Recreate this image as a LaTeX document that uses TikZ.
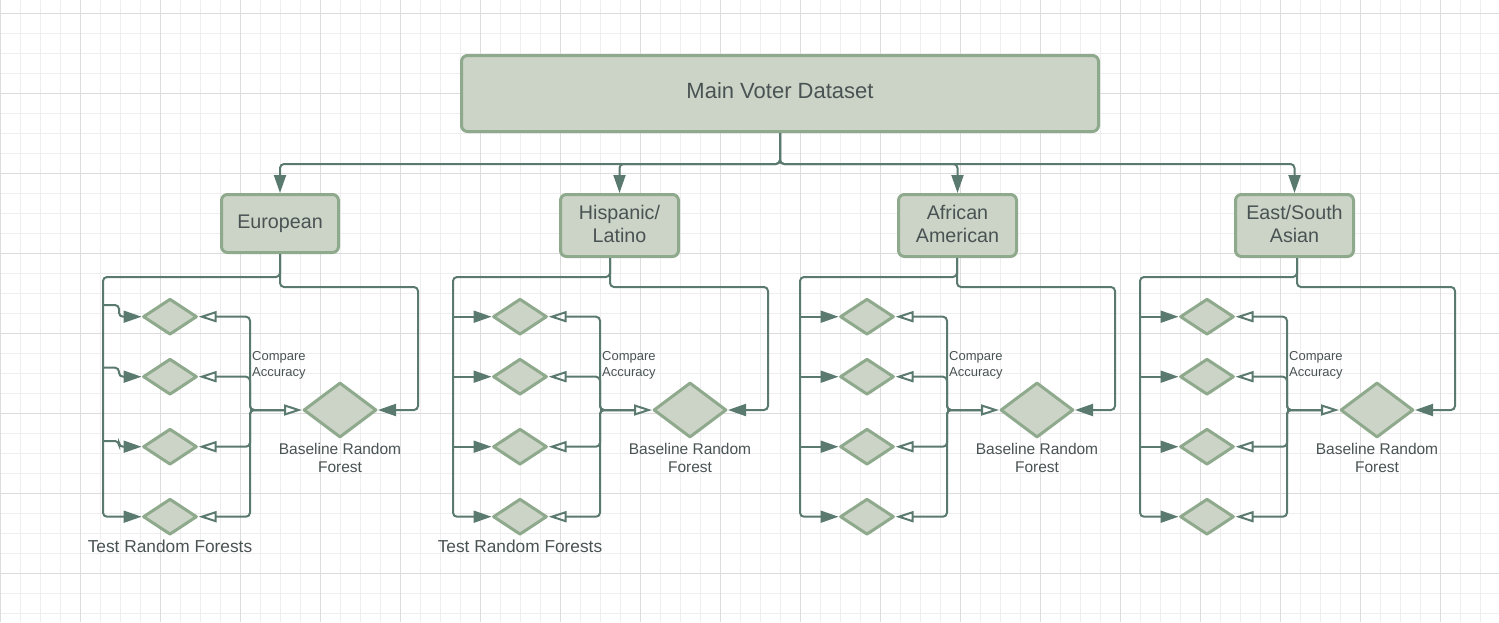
\documentclass[tikz,border=0pt]{standalone}
\usepackage{fontspec}
\setmainfont{Liberation Sans}
\usetikzlibrary{shapes.geometric,arrows.meta,calc}
\definecolor{cfill}{HTML}{CCD4C8}
\definecolor{cborder}{HTML}{8EA98C}
\definecolor{cline}{HTML}{5B7A6F}
\definecolor{ctext}{HTML}{4A5353}
\definecolor{gminor}{HTML}{EEEEEE}
\definecolor{gmajor}{HTML}{DCDCDC}
\begin{document}
\begin{tikzpicture}[x=1pt,y=-1pt,
  box/.style={draw=cborder, fill=cfill, line width=3pt, rounded corners=6pt, text=ctext, align=center, inner sep=0pt},
  dia/.style={diamond, draw=cborder, fill=cfill, line width=3pt, line join=round, inner sep=0pt},
  smalldia/.style={dia, minimum width=54pt, minimum height=36pt},
  bigdia/.style={dia, minimum width=73pt, minimum height=55pt},
  conn/.style={draw=cline, line width=2pt, rounded corners=4pt},
  fillarrow/.style={conn, -{Triangle[length=18pt,width=12pt]}},
  openarrow/.style={conn, -{Triangle[open,length=18pt,width=11pt]}},
  lbl/.style={text=ctext, align=center, inner sep=0pt},
  catfont/.style={font=\fontsize{19.7}{23}\selectfont},
]
\useasboundingbox (0,0) rectangle (1499,622);
\fill[white] (0,0) rectangle (1499,622);
% grid
\foreach \x in {0,20,...,1480} \draw[gminor, line width=1pt] (\x+0.7,0) -- (\x+0.7,622);
\foreach \y in {0,20,...,600} \draw[gminor, line width=1pt] (0,\y+13.3) -- (1499,\y+13.3);
\foreach \x in {0,80,...,1440} \draw[gmajor, line width=1.2pt] (\x+0.7,0) -- (\x+0.7,622);
\foreach \y in {0,80,...,560} \draw[gmajor, line width=1.2pt] (0,\y+13.3) -- (1499,\y+13.3);

% main box and categories
\node[box, minimum width=637pt, minimum height=76pt, text depth=5pt, font=\fontsize{22}{26}\selectfont] (main) at (780,93.5) {Main Voter Dataset};
\node[box, catfont, minimum width=117pt, minimum height=58pt] (c1) at (280,223.5) {European};
\node[box, catfont, minimum width=118pt, minimum height=62pt, text depth=3pt] (c2) at (619.5,225.5) {Hispanic/\\Latino};
\node[box, catfont, minimum width=118pt, minimum height=62pt, text depth=3pt] (c3) at (957.5,225.5) {African\\American};
\node[box, catfont, minimum width=118pt, minimum height=62pt, text depth=3pt] (c4) at (1294.5,225.5) {East/South\\Asian};

\coordinate (bus) at (0,164);
\foreach \i in {1,2,3,4}
  \draw[fillarrow] (main.south) |- (c\i.north |- bus) -- (c\i.north);

\foreach \i/\o/\cx in {1/0/280, 2/350/610, 3/697/957, 4/1037/1297} {
  \node[smalldia] (ta\i) at (170+\o,316.7) {};
  \node[smalldia] (tb\i) at (170+\o,376.7) {};
  \node[smalldia] (tc\i) at (170+\o,446.7) {};
  \node[smalldia] (td\i) at (170+\o,516.7) {};
  \node[bigdia] (b\i) at (340+\o,410) {};
  \coordinate (cx\i) at (\cx,0);
  \coordinate (lv\i) at (103+\o,277);
  \coordinate (rv\i) at (418+\o,287);
  \coordinate (iv\i) at (250+\o,0);
  % from category box
  \draw[fillarrow] (cx\i |- c\i.south) |- (lv\i) |- (td\i.west);
  \draw[fillarrow] (cx\i |- c\i.south) |- (rv\i) |- (b\i.east);
  % branches to test forests
  \ifnum\i=1
    \draw[fillarrow] (lv\i |- 0,305) -| (119,316.7) -- (ta\i.west);
    \draw[fillarrow] (lv\i |- 0,367.7) -| (119,376.7) -- (tb\i.west);
    \draw[fillarrow] (lv\i |- 0,441) -| (119,446.7) -- (tc\i.west);
  \else
    \draw[fillarrow] (ta\i.west -| lv\i) -- (ta\i.west);
    \draw[fillarrow] (tb\i.west -| lv\i) -- (tb\i.west);
    \draw[fillarrow] (tc\i.west -| lv\i) -- (tc\i.west);
  \fi
  % compare with baseline
  \draw[openarrow] ([xshift=-18pt]b\i.west) -| (iv\i |- ta\i.east) -- (ta\i.east);
  \draw[openarrow] ([xshift=-18pt]b\i.west) -| (iv\i |- tb\i.east) -- (tb\i.east);
  \draw[openarrow] ([xshift=-18pt]b\i.west) -| (iv\i |- tc\i.east) -- (tc\i.east);
  \draw[openarrow] ([xshift=-18pt]b\i.west) -| (iv\i |- td\i.east) -- (td\i.east);
  \draw[openarrow] (iv\i |- b\i.west) -- (b\i.west);
  \node[lbl, anchor=west, align=left, font=\fontsize{13}{15.6}\selectfont] (ca\i) at (252+\o,365.5) {Compare\\Accuracy};
  \node[lbl, font=\fontsize{15.5}{18}\selectfont] (bl\i) at (340+\o,458.3) {Baseline Random\\Forest};
}
\node[lbl, font=\fontsize{17.3}{20}\selectfont] (tr1) at (170,546.7) {Test Random Forests};
\node[lbl, font=\fontsize{17.3}{20}\selectfont] (tr2) at (520,546.7) {Test Random Forests};
\end{tikzpicture}
\end{document}
